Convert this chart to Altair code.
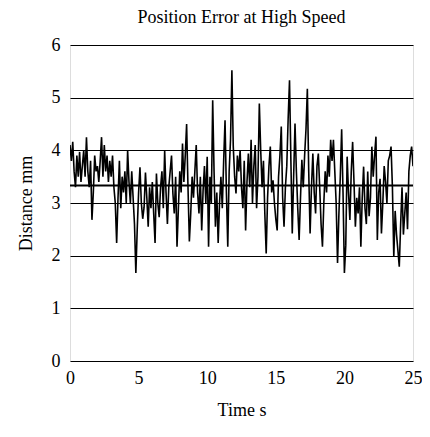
import altair as alt
import pandas as pd

distance_mm = [
    4.1, 3.8, 4.16, 3.6, 3.3, 3.9, 3.5, 3.97, 3.4, 3.7, 4.0,
    3.5, 4.25, 3.6, 3.3, 3.8, 2.68, 3.2, 3.9, 3.6, 3.7,
    3.4, 3.8, 4.25, 3.5, 4.1, 3.6, 3.9, 3.4, 3.8, 3.5,
    3.9, 3.3, 3.0, 2.24, 3.1, 3.8, 2.9, 3.5, 3.2, 3.6,
    3.0, 4.0, 3.4, 3.0, 3.6, 3.1, 2.6, 1.67, 2.5, 3.2,
    3.68, 3.0, 2.7, 2.92, 3.58, 3.1, 2.55, 3.3, 2.9, 3.4,
    2.8, 2.24, 3.56, 3.0, 2.73, 3.3, 3.6, 2.9, 4.0, 3.2,
    2.6, 3.3, 3.6, 3.9, 3.18, 2.8, 3.5, 2.17, 2.9, 3.6,
    3.2, 4.13, 3.4, 3.9, 4.5, 3.3, 2.27, 2.8, 3.5, 3.1,
    3.6, 4.1, 3.2, 2.8, 3.5, 2.48, 3.24, 3.7, 3.0, 3.88,
    2.17, 3.5, 3.0, 4.95, 3.6, 2.55, 3.2, 2.24, 3.0, 3.5,
    2.9, 3.8, 4.57, 3.2, 2.17, 3.6, 4.2, 5.52, 4.07, 3.5,
    3.18, 3.9, 3.6, 4.0, 3.3, 2.9, 3.8, 2.48, 3.4, 3.94,
    3.3, 4.2, 3.0, 3.7, 4.1, 2.9, 3.5, 4.89, 4.0, 3.3,
    3.8, 2.8, 2.04, 3.1, 3.7, 4.07, 3.2, 3.43, 3.0, 2.7,
    2.48, 3.5, 3.9, 4.45, 3.1, 2.55, 3.3, 3.7, 4.6, 5.33,
    3.8, 2.42, 3.5, 4.51, 3.6, 2.9, 2.3, 3.1, 3.82, 3.3,
    3.9, 4.4, 5.17, 3.6, 2.42, 3.3, 3.94, 3.2, 2.8, 3.7,
    3.94, 3.3, 2.6, 2.17, 3.0, 3.6, 3.2, 3.9, 3.5, 4.2,
    3.8, 4.2, 3.6, 3.0, 1.86, 2.8, 3.5, 4.4, 3.2, 1.67,
    2.2, 3.88, 3.2, 2.68, 3.6, 4.16, 3.4, 2.55, 3.1, 2.8,
    3.3, 2.17, 3.1, 3.69, 2.9, 2.6, 3.6, 2.75, 3.1, 4.07,
    3.5, 3.9, 4.26, 2.3, 3.2, 3.46, 2.42, 3.0, 3.7, 3.4,
    3.0, 3.8, 3.9, 4.07, 3.3, 1.98, 2.85, 2.4, 2.1, 1.79,
    2.6, 3.3, 2.4, 2.8, 3.2, 2.5, 3.6, 3.9, 4.07, 3.7,
]
time_s = [round(i * 0.1, 1) for i in range(len(distance_mm))]
mean_level = [3.33]

df = pd.DataFrame({"t": time_s, "d": distance_mm})
mean_df = pd.DataFrame({"m": mean_level})

FONT = "Liberation Serif, 'Times New Roman', 'DejaVu Serif', serif"

x_enc = alt.X(
    "t:Q",
    scale=alt.Scale(domain=[0, 25], nice=False, zero=False),
    axis=alt.Axis(
        title="Time s", values=[0, 5, 10, 15, 20, 25], grid=False, ticks=False,
        domain=False, labelPadding=8, titlePadding=14, labelFontSize=18,
        titleFontSize=18, labelFont=FONT, titleFont=FONT, labelColor="black",
        titleColor="black", titleFontWeight="normal", labelFlush=False,
    ),
)
y_enc = alt.Y(
    "d:Q",
    scale=alt.Scale(domain=[0, 6], nice=False),
    axis=alt.Axis(
        title="Distance mm", values=[0, 1, 2, 3, 4, 5, 6], grid=True,
        gridColor="black", gridOpacity=1, gridWidth=1.1, ticks=False,
        domain=False, labelPadding=10, titlePadding=16, labelFontSize=18,
        titleFontSize=18, labelFont=FONT, titleFont=FONT, labelColor="black",
        titleColor="black", titleFontWeight="normal", labelFlush=False,
    ),
)

line = alt.Chart(df).mark_line(color="black", strokeWidth=1.6, clip=True).encode(x=x_enc, y=y_enc)

mean_rule = alt.Chart(mean_df).mark_rule(color="black", strokeWidth=2).encode(y="m:Q")

chart = (
    alt.layer(line, mean_rule)
    .properties(
        width=343,
        height=316,
        title=alt.TitleParams(
            "Position Error at High Speed", font=FONT, fontSize=18,
            fontWeight="normal", color="black", anchor="middle", offset=9,
        ),
        autosize=alt.AutoSizeParams(type="none"),
        padding={"left": 62, "top": 37, "right": 9, "bottom": 60},
    )
    .configure_view(stroke="black", strokeWidth=1.3)
    .configure(background="white")
)

chart.save("out.html", embed_options={"renderer": "svg", "actions": False})
